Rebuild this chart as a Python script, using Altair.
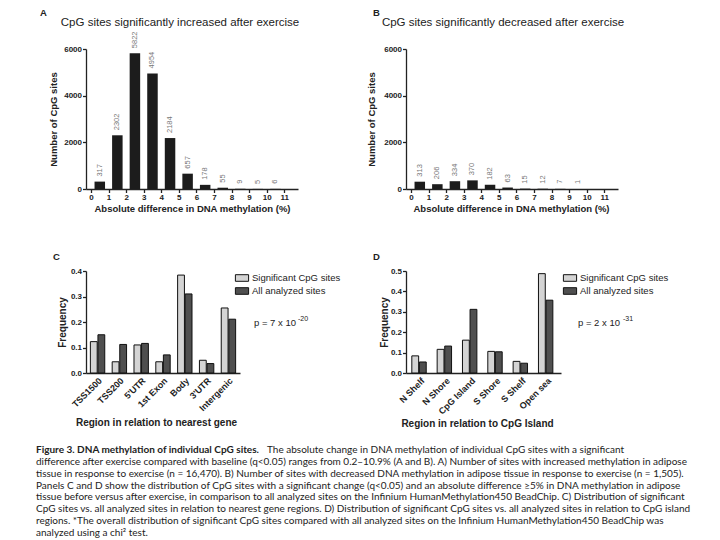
import altair as alt
import pandas as pd

FONT = "Liberation Sans"
INK = "#222222"

# ---------------- data ----------------
a_bins = [0.5, 1.5, 2.5, 3.5, 4.5, 5.5, 6.5, 7.5, 8.5, 9.5, 10.5]
a_counts = [317, 2302, 5822, 4954, 2184, 657, 178, 55, 9, 5, 6]
b_bins = [0.5, 1.5, 2.5, 3.5, 4.5, 5.5, 6.5, 7.5, 8.5, 9.5]
b_counts = [313, 206, 334, 370, 182, 63, 15, 12, 7, 1]
hist_ticks = list(range(12))
count_ticks = [0, 2000, 4000, 6000]

series_names = ["Significant CpG sites", "All analyzed sites"]
series_colors = ["#d4d4d4", "#4f4f4f"]

c_regions = ["TSS1500", "TSS200", "5'UTR", "1st Exon", "Body", "3'UTR", "Intergenic"]
c_sig = [0.123, 0.044, 0.110, 0.044, 0.384, 0.050, 0.255]
c_all = [0.150, 0.112, 0.116, 0.071, 0.310, 0.037, 0.211]
c_ticks = [0.0, 0.1, 0.2, 0.3, 0.4]

d_regions = ["N Shelf", "N Shore", "CpG Island", "S Shore", "S Shelf", "Open sea"]
d_sig = [0.084, 0.116, 0.161, 0.106, 0.057, 0.487]
d_all = [0.054, 0.132, 0.312, 0.104, 0.048, 0.357]
d_ticks = [0.0, 0.1, 0.2, 0.3, 0.4, 0.5]

caption_bold = "Figure 3. DNA methylation of individual CpG sites."
caption_first = "The absolute change in DNA methylation of individual CpG sites with a significant"
caption_lines = [
    "difference after exercise compared with baseline (q<0.05) ranges from 0.2\u201310.9% (A and B). A) Number of sites with increased methylation in adipose",
    "tissue in response to exercise (n = 16,470). B) Number of sites with decreased DNA methylation in adipose tissue in response to exercise (n = 1,505).",
    "Panels C and D show the distribution of CpG sites with a significant change (q<0.05) and an absolute difference \u22655% in DNA methylation in adipose",
    "tissue before versus after exercise, in comparison to all analyzed sites on the Infinium HumanMethylation450 BeadChip. C) Distribution of significant",
    "CpG sites vs. all analyzed sites in relation to nearest gene regions. D) Distribution of significant CpG sites vs. all analyzed sites in relation to CpG island",
    "regions. *The overall distribution of significant CpG sites compared with all analyzed sites on the Infinium HumanMethylation450 BeadChip was",
    "analyzed using a chi\u00b2 test.",
]


def one_text(t):
    return alt.Chart(pd.DataFrame({"t": [t]}))


def hist_panel(bins, counts, letter, title, letter_x, title_x, ytitle_x, xtitle_x):
    df = pd.DataFrame({"bin": bins, "count": counts})
    x = alt.X(
        "bin:Q",
        scale=alt.Scale(domain=[0, 11.5], nice=False, zero=False),
        axis=alt.Axis(values=hist_ticks, format="d", labelOverlap=False,
                      title="Absolute difference in DNA methylation (%)",
                      titleX=xtitle_x, titlePadding=2, titleFontSize=9.5),
    )
    y = alt.Y(
        "count:Q",
        scale=alt.Scale(domain=[0, 6000], nice=False),
        axis=alt.Axis(values=count_ticks, format="d", title="Number of CpG sites",
                      labelOverlap=False,
                      titleX=ytitle_x, titleBaseline="middle", titleFontSize=9.5),
    )
    bars = alt.Chart(df).mark_bar(size=10.5, color="#1c1c1c").encode(x=x, y=y)
    labels = alt.Chart(df).mark_text(
        angle=270, align="left", baseline="middle", dx=5,
        font=FONT, fontSize=7.5, color="#777777",
    ).encode(x=x, y=y, text="count:Q")
    heading = one_text(title).mark_text(
        font=FONT, fontSize=11.5, color=INK, align="center", baseline="middle"
    ).encode(x=alt.value(title_x), y=alt.value(-26), text="t:N")
    lab = one_text(letter).mark_text(
        font=FONT, fontSize=9.5, fontWeight="bold", color=INK, align="left", baseline="top"
    ).encode(x=alt.value(letter_x), y=alt.value(-41), text="t:N")
    return alt.layer(bars, labels, heading, lab).properties(width=212, height=140)


def group_panel(regions, sig, allv, ymax, yticks, width, pad_outer, letter,
                xtitle, xtitle_x, xtitle_y, ytitle_x, legend_x, p_main, p_exp,
                p_x, p_exp_x):
    n = len(regions)
    df = pd.DataFrame({
        "region": regions * 2,
        "series": [series_names[0]] * n + [series_names[1]] * n,
        "freq": sig + allv,
    })
    x = alt.X(
        "region:N", sort=regions,
        scale=alt.Scale(paddingInner=0.34, paddingOuter=pad_outer),
        axis=alt.Axis(title=xtitle, labelAngle=-45, ticks=False, labelPadding=3,
                      labelFontSize=9, titleX=xtitle_x, titleY=xtitle_y,
                      titleFontSize=10),
    )
    xo = alt.XOffset("series:N", sort=series_names, scale=alt.Scale(paddingInner=0.1))
    y = alt.Y(
        "freq:Q", scale=alt.Scale(domain=[0, ymax], nice=False),
        axis=alt.Axis(values=yticks, format=".1f", title="Frequency", labelOverlap=False,
                      titleX=ytitle_x, titleBaseline="middle", titleFontSize=10),
    )
    color = alt.Color(
        "series:N",
        scale=alt.Scale(domain=series_names, range=series_colors),
        legend=alt.Legend(
            orient="none", legendX=legend_x, legendY=1, title=None, padding=0,
            direction="vertical",
            symbolType="M-1.2,-0.6H1.2V0.6H-1.2Z", symbolSize=121,
            symbolStrokeColor="#111111", symbolStrokeWidth=1, symbolOpacity=1,
            labelFont=FONT, labelFontSize=9.5, labelColor=INK,
            rowPadding=1, labelOffset=4,
        ),
    )
    bars = alt.Chart(df).mark_bar(stroke="#111111", strokeWidth=1).encode(
        x=x, xOffset=xo, y=y, color=color
    )
    ptxt = one_text(p_main).mark_text(
        font=FONT, fontSize=9.5, color=INK, align="left", baseline="middle",
    ).encode(x=alt.value(p_x), y=alt.value(52), text="t:N")
    pexp = one_text(p_exp).mark_text(
        font=FONT, fontSize=7, color=INK, align="left", baseline="middle"
    ).encode(x=alt.value(p_exp_x), y=alt.value(48), text="t:N")
    lab = one_text(letter).mark_text(
        font=FONT, fontSize=9.5, fontWeight="bold", color=INK, align="left", baseline="top"
    ).encode(x=alt.value(-33), y=alt.value(-19), text="t:N")
    return alt.layer(bars, ptxt, pexp, lab).properties(width=width, height=102)


A = hist_panel(a_bins, a_counts, "A", "CpG sites significantly increased after exercise",
               -46, 94, -33, 106)
B = hist_panel(b_bins, b_counts, "B", "CpG sites significantly decreased after exercise",
               -33, 97, -35, 105)

C = group_panel(c_regions, c_sig, c_all, 0.4, c_ticks, 154, 0.2, "C",
                "Region in relation to nearest gene", 70, 44, -24, 150,
                "p = 7 x 10", "-20", 168, 212)
D = group_panel(d_regions, d_sig, d_all, 0.5, d_ticks, 155, 0.23, "D",
                "Region in relation to CpG Island", 71, 45, -21.5, 158,
                "p = 2 x 10", "-31", 172, 217)

# ---------------- caption (third grid row, first column) ----------------
cap_df = pd.DataFrame({"line": list(range(1, len(caption_lines) + 1)), "text": caption_lines})
cap_y = alt.Y("line:Q", scale=alt.Scale(domain=[0, 7], range=[-5, 78]), axis=None)
CAP_SIZE = 10
cap_rest = alt.Chart(cap_df).mark_text(
    font="Lato", fontSize=CAP_SIZE, color=INK, align="left", baseline="middle"
).encode(x=alt.value(-50), y=cap_y, text="text:N")
first_df = pd.DataFrame({"line": [0], "bold": [caption_bold], "text": [caption_first]})
cap_bold = alt.Chart(first_df).mark_text(
    font="Lato", fontSize=CAP_SIZE, fontWeight="bold", color=INK, align="left", baseline="middle"
).encode(x=alt.value(-50), y=cap_y, text="bold:N")
cap_first = alt.Chart(first_df).mark_text(
    font="Lato", fontSize=CAP_SIZE, color=INK, align="left", baseline="middle"
).encode(x=alt.value(181), y=cap_y, text="text:N")
caption = alt.layer(cap_bold, cap_first, cap_rest).properties(width=150, height=78)

chart = (
    alt.concat(A, B, C, D, caption, columns=2,
               spacing={"row": 82, "column": 108}, bounds="flush")
    .resolve_scale(color="independent")
    .properties(padding={"left": 28, "top": 0, "right": 0, "bottom": 0}, background="white")
    .configure_view(stroke=None)
    .configure_axis(
        grid=False,
        domainColor=INK, domainWidth=1.3,
        tickColor=INK, tickWidth=1.3, tickSize=3.5,
        labelFont=FONT, labelFontSize=8, labelFontWeight="bold", labelColor=INK,
        labelPadding=1,
        titleFont=FONT, titleFontWeight="bold", titleColor=INK,
    )
)

chart.save("out.html", embed_options={"renderer": "svg", "actions": False})
